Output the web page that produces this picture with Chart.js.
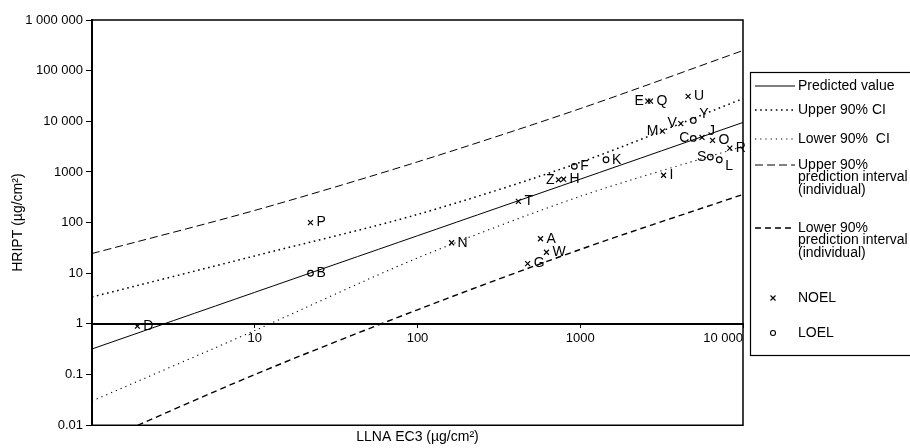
<!DOCTYPE html>
<html>
<head>
<meta charset="utf-8">
<script src="https://cdn.jsdelivr.net/npm/chart.js@4.4.1/dist/chart.umd.min.js"></script>
<style>
  body { margin: 0; background: #fff; }
  #wrap { width: 910px; height: 448px; }
</style>
</head>
<body>
<div id="wrap"><canvas id="hriptChart" width="910" height="448"></canvas></div>
<script>
// regression curves, read at each decade of LLNA EC3
var curveX = [1, 10, 100, 1000, 10000];
var predicted = [0.32, 4.2, 55, 720, 9500];
var upperCI = [3.4, 22, 145, 1550, 28000];
var lowerCI = [0.03, 0.74, 20, 330, 3200];
var upperPI = [24.5, 174, 1580, 17800, 250000];
var lowerPI = [0.004, 0.1, 1.9, 29.5, 360];

// substances, NOEL (x) and LOEL (o)
var noelNames = ['A', 'D', 'E', 'G', 'H', 'I', 'J', 'M', 'N', 'O', 'P', 'Q', 'R', 'T', 'U', 'V', 'W', 'Z'];
var noelEC3 = [570, 1.9, 2600, 475, 790, 3250, 5600, 3200, 162, 6500, 22, 2700, 8300, 417, 4600, 4150, 620, 735];
var noelHRIPT = [48, 0.9, 25000, 15.5, 720, 860, 4800, 6400, 40, 4200, 100, 25000, 2950, 263, 31000, 9000, 26, 700];
var loelNames = ['B', 'C', 'F', 'K', 'L', 'S', 'Y'];
var loelEC3 = [22, 4950, 920, 1440, 7150, 6300, 4950];
var loelHRIPT = [10, 4600, 1290, 1740, 1740, 1970, 10400];

var yTickValues = [0.01, 0.1, 1, 10, 100, 1000, 10000, 100000, 1000000];
var yTickLabels = ['0.01', '0.1', '1', '10', '100', '1000', '10 000', '100 000', '1 000 000'];
var xTickValues = [1, 10, 100, 1000, 10000];
var xTickLabels = ['', '10', '100', '1000', '10 000'];

var FONT = "'Liberation Sans', Arial, sans-serif";

function pairs(xs, ys) {
    return xs.map(function(x, i) { return {x: x, y: ys[i]}; });
}

function curve(label, values, dash, width) {
    return {
        label: label,
        data: pairs(curveX, values),
        showLine: true,
        borderColor: '#000',
        borderWidth: width,
        borderDash: dash,
        pointRadius: 0,
        tension: 0.3
    };
}

var datasets = [
    curve('Predicted value', predicted, [], 1),
    curve('Upper 90% CI', upperCI, [1.6, 3.6], 1.5),
    curve('Lower 90%  CI', lowerCI, [1.2, 4], 1.1),
    curve('Upper 90%\nprediction interval\n(individual)', upperPI, [8, 4], 1),
    curve('Lower 90%\nprediction interval\n(individual)', lowerPI, [6, 4], 1.4),
    {
        label: 'NOEL', names: noelNames, data: pairs(noelEC3, noelHRIPT),
        pointStyle: 'crossRot', pointRadius: 3.5, borderColor: '#000', borderWidth: 1.2,
        backgroundColor: '#000'
    },
    {
        label: 'LOEL', names: loelNames, data: pairs(loelEC3, loelHRIPT),
        pointStyle: 'circle', pointRadius: 2.8, borderColor: '#000', borderWidth: 1.2,
        backgroundColor: '#fff'
    }
];

// where a letter sits next to its marker
var labelSide = {E: 'left', Z: 'left', M: 'left', V: 'left', C: 'left', S: 'left',
                 J: 'upright', Y: 'upright', L: 'downright'};

var pointLabels = {
    id: 'pointLabels',
    afterDatasetsDraw: function(chart) {
        var ctx = chart.ctx;
        ctx.save();
        ctx.fillStyle = '#000';
        ctx.font = '14px ' + FONT;
        ctx.textBaseline = 'middle';
        chart.data.datasets.forEach(function(ds, i) {
            if (!ds.names) return;
            chart.getDatasetMeta(i).data.forEach(function(el, j) {
                var name = ds.names[j];
                var side = labelSide[name] || 'right';
                var x = el.x, y = el.y;
                if (side === 'left') {
                    ctx.textAlign = 'right';
                    ctx.fillText(name, x - 4, y);
                } else {
                    ctx.textAlign = 'left';
                    var dy = side === 'upright' ? -6 : (side === 'downright' ? 6 : 0);
                    ctx.fillText(name, x + 6, y + dy);
                }
            });
        });
        ctx.restore();
    }
};

var frameAndLegend = {
    id: 'frameAndLegend',
    afterDraw: function(chart) {
        var ctx = chart.ctx;
        var a = chart.chartArea;
        ctx.save();
        ctx.strokeStyle = '#000';
        ctx.lineWidth = 1.5;
        ctx.beginPath();
        ctx.moveTo(a.left, a.top);
        ctx.lineTo(a.right, a.top);
        ctx.lineTo(a.right, a.bottom);
        ctx.lineTo(a.left, a.bottom);
        ctx.stroke();

        // legend box, runs off the right side like the original
        var bx = a.right + 7, by = 72;
        ctx.lineWidth = 1.2;
        ctx.strokeRect(bx + 0.5, by + 0.5, 200, 283);
        ctx.font = '14px ' + FONT;
        ctx.fillStyle = '#000';
        ctx.textAlign = 'left';
        ctx.textBaseline = 'middle';
        var rows = [86, 110, 139, 165, 228];
        for (var i = 0; i < 5; i++) {
            var ds = chart.data.datasets[i];
            ctx.setLineDash(ds.borderDash);
            ctx.lineWidth = ds.borderWidth;
            ctx.beginPath();
            ctx.moveTo(bx + 5, rows[i]);
            ctx.lineTo(bx + 45, rows[i]);
            ctx.stroke();
            ctx.setLineDash([]);
            ds.label.split('\n').forEach(function(line, k) {
                ctx.fillText(line, bx + 48, rows[i] + k * 12.5);
            });
        }
        // marker rows
        ctx.lineWidth = 1.1;
        var mx = bx + 23;
        ctx.beginPath();
        ctx.moveTo(mx - 2.5, 295.5); ctx.lineTo(mx + 2.5, 300.5);
        ctx.moveTo(mx + 2.5, 295.5); ctx.lineTo(mx - 2.5, 300.5);
        ctx.stroke();
        ctx.fillText('NOEL', bx + 48, 298);
        ctx.beginPath();
        ctx.arc(mx, 333, 2.5, 0, Math.PI * 2);
        ctx.stroke();
        ctx.fillText('LOEL', bx + 48, 333);
        ctx.restore();
    }
};

new Chart(document.getElementById('hriptChart').getContext('2d'), {
    type: 'scatter',
    data: { datasets: datasets },
    options: {
        responsive: false,
        animation: false,
        layout: { padding: { top: 20, right: 167, left: 0, bottom: 0 } },
        plugins: {
            legend: { display: false },
            tooltip: { enabled: false },
            title: {
                display: true,
                position: 'bottom',
                fullSize: false,
                text: 'LLNA EC3 (µg/cm²)',
                color: '#000',
                font: { family: FONT, size: 14, weight: 'normal' },
                padding: { top: 4, bottom: 2 }
            }
        },
        scales: {
            x: {
                type: 'logarithmic',
                position: { y: 1 },
                min: 1,
                max: 10000,
                afterBuildTicks: function(scale) {
                    scale.ticks = xTickValues.map(function(v) { return {value: v}; });
                },
                ticks: {
                    align: 'inner',
                    autoSkip: false,
                    maxRotation: 0,
                    padding: 4,
                    color: '#000',
                    font: { family: FONT, size: 13 },
                    callback: function(value) { return xTickLabels[xTickValues.indexOf(value)]; }
                },
                grid: { drawOnChartArea: false, drawTicks: true, tickLength: 3, color: '#000' },
                border: { display: true, color: '#000', width: 2 }
            },
            y: {
                type: 'logarithmic',
                position: 'left',
                min: 0.01,
                max: 1000000,
                afterBuildTicks: function(scale) {
                    scale.ticks = yTickValues.map(function(v) { return {value: v}; });
                },
                afterFit: function(scale) { scale.width = 92; },
                ticks: {
                    autoSkip: false,
                    padding: 3,
                    color: '#000',
                    font: { family: FONT, size: 13 },
                    callback: function(value) { return yTickLabels[yTickValues.indexOf(value)]; }
                },
                grid: { drawOnChartArea: false, drawTicks: true, tickLength: 6, color: '#000' },
                border: { display: true, color: '#000', width: 2 },
                title: {
                    display: true,
                    text: 'HRIPT (µg/cm²)',
                    color: '#000',
                    font: { family: FONT, size: 14 },
                    padding: { top: 10, bottom: 4 }
                }
            }
        }
    },
    plugins: [pointLabels, frameAndLegend]
});
</script>
</body>
</html>
